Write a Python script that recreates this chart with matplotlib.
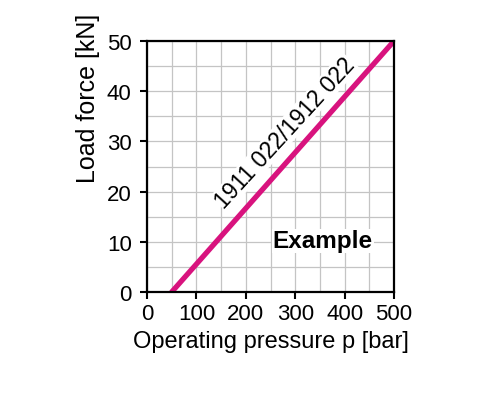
import numpy as np
import matplotlib.pyplot as plt

plt.rcParams['font.family'] = ['Liberation Sans', 'DejaVu Sans']

# ---- data ----
pressure = [50, 500]      # bar
load_force = [0, 50]      # kN
x_ticks = [0, 100, 200, 300, 400, 500]
y_ticks = [0, 10, 20, 30, 40, 50]
line_label = "1911 022/1912 022"

magenta = '#d8137e'

fig = plt.figure(figsize=(4.9, 4.1), dpi=100)
ax = fig.add_axes([147 / 490, 1 - 293 / 410, 247 / 490, 251 / 410])

ax.plot(pressure, load_force, color=magenta, lw=3.8, solid_capstyle='round', zorder=3)

ax.set_xlim(0, 500)
ax.set_ylim(0, 50)
ax.set_xticks(x_ticks)
ax.set_yticks(y_ticks)
ax.set_xticks(np.arange(0, 501, 50), minor=True)
ax.set_yticks(np.arange(0, 51, 5), minor=True)
ax.grid(True, which='both', color='#c4c4c4', lw=0.9, zorder=0)
ax.tick_params(which='minor', length=0)
ax.tick_params(which='major', direction='out', length=5, width=1.5,
               labelsize=16, colors='black')
ax.tick_params(axis='y', pad=6)
ax.tick_params(axis='x', pad=3)
for sp in ax.spines.values():
    sp.set_linewidth(1.6)
    sp.set_zorder(4)

ax.set_xlabel("Operating pressure p [bar]", fontsize=17, labelpad=4)
ax.set_ylabel("Load force [kN]", fontsize=18)
ax.yaxis.set_label_coords(-0.19, 0.775)

ax.text(279, 31.8, line_label, fontsize=16.5, rotation=47.5,
        ha='center', va='center', rotation_mode='anchor',
        bbox=dict(facecolor='white', edgecolor='none', pad=0.3), zorder=2)
ax.text(356, 10.2, "Example", fontsize=17.5, fontweight='bold',
        ha='center', va='center',
        bbox=dict(facecolor='white', edgecolor='none', pad=0.5), zorder=2)

fig.savefig('out.png', dpi=100)
